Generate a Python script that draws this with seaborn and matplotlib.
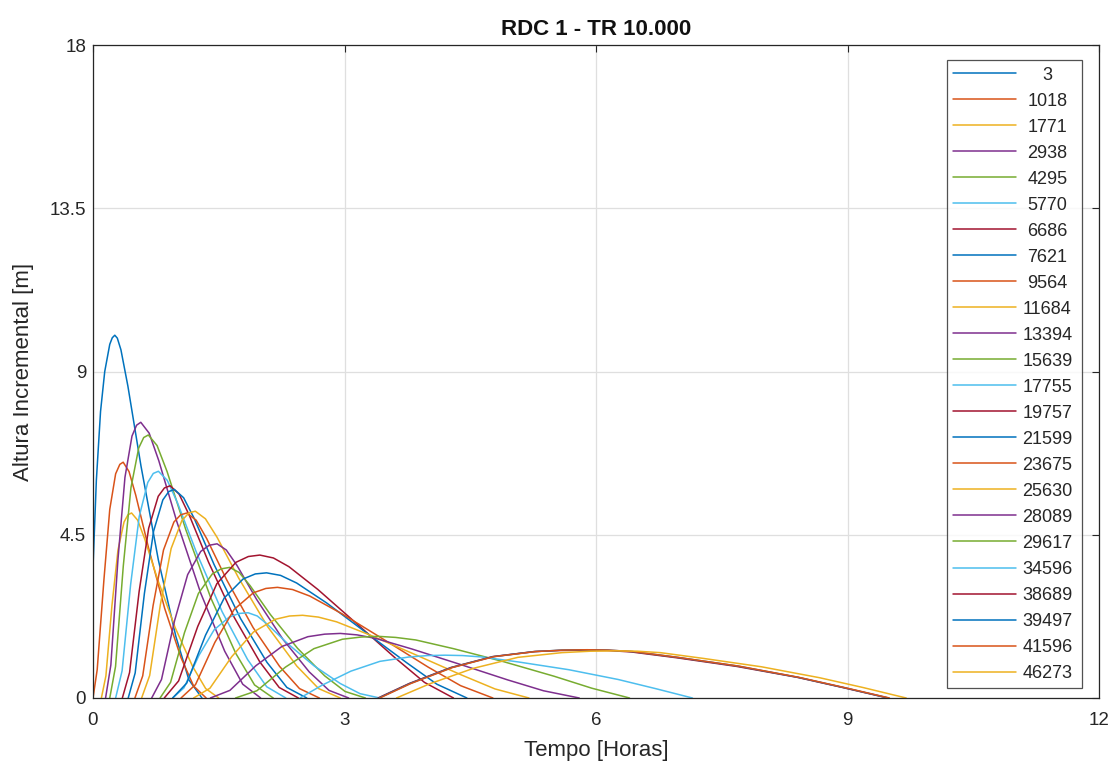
import matplotlib
matplotlib.use("Agg")
import matplotlib.pyplot as plt
from matplotlib.lines import Line2D
from matplotlib.transforms import IdentityTransform
import pandas as pd
import seaborn as sns

# ── data (time [h], height [m]) per section ─────────────────────────────────
sections = ["3", "1018", "1771", "2938", "4295", "5770", "6686", "7621",
            "9564", "11684", "13394", "15639", "17755", "19757", "21599",
            "23675", "25630", "28089", "29617", "34596", "38689", "39497",
            "41596", "46273"]

t_3 = [0, 0.04, 0.09, 0.14, 0.2, 0.23, 0.26, 0.29, 0.333, 0.416, 0.572, 0.78, 0.988, 1.144, 1.3]
h_3 = [3.6, 6.0, 7.9, 9.0, 9.75, 9.93, 10.0, 9.92, 9.6, 8.6, 6.4, 3.8, 1.7, 0.5, 0]

t_1018 = [0, 0.05, 0.13, 0.2, 0.27, 0.32, 0.36, 0.43, 0.51, 0.66, 0.855, 1.05, 1.2, 1.35]
h_1018 = [0, 0.78, 3.25, 5.2, 6.18, 6.44, 6.5, 6.24, 5.59, 4.16, 2.47, 1.11, 0.33, 0]

t_1771 = [0.1, 0.154, 0.226, 0.298, 0.37, 0.417, 0.46, 0.533, 0.616, 0.772, 0.98, 1.188, 1.344, 1.5]
h_1771 = [0, 0.61, 2.55, 4.08, 4.85, 5.05, 5.1, 4.9, 4.39, 3.26, 1.94, 0.87, 0.26, 0]

t_2938 = [0.15, 0.213, 0.297, 0.381, 0.465, 0.52, 0.57, 0.67, 0.785, 1.0, 1.285, 1.571, 1.786, 2.0]
h_2938 = [0, 0.91, 3.8, 6.08, 7.22, 7.52, 7.6, 7.3, 6.54, 4.86, 2.89, 1.29, 0.38, 0]

t_4295 = [0.2, 0.269, 0.361, 0.453, 0.545, 0.605, 0.66, 0.764, 0.884, 1.107, 1.405, 1.703, 1.927, 2.15]
h_4295 = [0, 0.87, 3.63, 5.8, 6.89, 7.18, 7.25, 6.96, 6.24, 4.64, 2.76, 1.23, 0.36, 0]

t_5770 = [0.27, 0.347, 0.449, 0.551, 0.653, 0.719, 0.78, 0.886, 1.008, 1.236, 1.54, 1.844, 2.072, 2.3]
h_5770 = [0, 0.75, 3.13, 5.0, 5.94, 6.19, 6.25, 6.0, 5.38, 4.0, 2.38, 1.06, 0.31, 0]

t_6686 = [0.35, 0.436, 0.55, 0.664, 0.778, 0.852, 0.92, 1.027, 1.15, 1.379, 1.685, 1.991, 2.221, 2.45]
h_6686 = [0, 0.7, 2.93, 4.68, 5.56, 5.79, 5.85, 5.62, 5.03, 3.74, 2.22, 0.99, 0.29, 0]

t_7621 = [0.42, 0.503, 0.613, 0.723, 0.833, 0.904, 0.97, 1.081, 1.207, 1.444, 1.76, 2.076, 2.313, 2.55]
h_7621 = [0, 0.69, 2.88, 4.6, 5.46, 5.69, 5.75, 5.52, 4.95, 3.68, 2.19, 0.98, 0.29, 0]

t_9564 = [0.5, 0.593, 0.717, 0.841, 0.965, 1.046, 1.12, 1.231, 1.357, 1.594, 1.91, 2.226, 2.463, 2.7]
h_9564 = [0, 0.61, 2.55, 4.08, 4.85, 5.05, 5.1, 4.9, 4.39, 3.26, 1.94, 0.87, 0.26, 0]

t_11684 = [0.58, 0.676, 0.804, 0.932, 1.06, 1.143, 1.22, 1.341, 1.48, 1.739, 2.085, 2.431, 2.691, 2.95]
h_11684 = [0, 0.62, 2.58, 4.12, 4.89, 5.1, 5.15, 4.94, 4.43, 3.3, 1.96, 0.88, 0.26, 0]

t_13394 = [0.7, 0.817, 0.973, 1.129, 1.285, 1.386, 1.48, 1.59, 1.716, 1.951, 2.265, 2.579, 2.815, 3.05]
h_13394 = [0, 0.51, 2.13, 3.4, 4.04, 4.21, 4.25, 4.08, 3.66, 2.72, 1.62, 0.72, 0.21, 0]

t_15639 = [0.8, 0.925, 1.091, 1.257, 1.423, 1.53, 1.63, 1.743, 1.873, 2.116, 2.44, 2.764, 3.007, 3.25]
h_15639 = [0, 0.43, 1.8, 2.88, 3.42, 3.56, 3.6, 3.46, 3.1, 2.3, 1.37, 0.61, 0.18, 0]

t_17755 = [0.95, 1.085, 1.265, 1.445, 1.625, 1.742, 1.85, 1.96, 2.086, 2.321, 2.635, 2.949, 3.185, 3.42]
h_17755 = [0, 0.28, 1.18, 1.88, 2.23, 2.33, 2.35, 2.26, 2.02, 1.5, 0.89, 0.4, 0.12, 0]

t_19757 = [0.85, 1.021, 1.249, 1.477, 1.705, 1.853, 1.99, 2.152, 2.337, 2.683, 3.145, 3.607, 3.954, 4.3]
h_19757 = [0, 0.47, 1.97, 3.15, 3.74, 3.9, 3.94, 3.86, 3.62, 2.99, 2.05, 1.1, 0.43, 0]

t_21599 = [0.95, 1.118, 1.342, 1.566, 1.79, 1.936, 2.07, 2.237, 2.429, 2.787, 3.265, 3.743, 4.102, 4.46]
h_21599 = [0, 0.41, 1.73, 2.76, 3.28, 3.42, 3.45, 3.38, 3.17, 2.62, 1.79, 0.97, 0.38, 0]

t_23675 = [1.05, 1.223, 1.453, 1.683, 1.913, 2.062, 2.2, 2.38, 2.586, 2.971, 3.485, 3.999, 4.385, 4.77]
h_23675 = [0, 0.37, 1.53, 2.44, 2.9, 3.02, 3.05, 2.99, 2.81, 2.32, 1.59, 0.85, 0.34, 0]

t_25630 = [1.2, 1.395, 1.655, 1.915, 2.175, 2.344, 2.5, 2.689, 2.905, 3.31, 3.85, 4.39, 4.795, 5.2]
h_25630 = [0, 0.27, 1.14, 1.82, 2.17, 2.26, 2.28, 2.23, 2.1, 1.73, 1.19, 0.64, 0.25, 0]

t_28089 = [1.4, 1.633, 1.943, 2.253, 2.563, 2.764, 2.95, 3.15, 3.378, 3.805, 4.375, 4.945, 5.373, 5.8]
h_28089 = [0, 0.21, 0.89, 1.42, 1.69, 1.76, 1.78, 1.74, 1.64, 1.35, 0.93, 0.5, 0.2, 0]

t_29617 = [1.7, 1.955, 2.295, 2.635, 2.975, 3.196, 3.4, 3.61, 3.85, 4.3, 4.9, 5.5, 5.95, 6.4]
h_29617 = [0, 0.2, 0.85, 1.36, 1.62, 1.68, 1.7, 1.67, 1.6, 1.36, 1.0, 0.6, 0.27, 0]

t_34596 = [2.47, 2.73, 3.076, 3.422, 3.768, 3.992, 4.2, 4.407, 4.643, 5.085, 5.675, 6.265, 6.708, 7.15]
h_34596 = [0, 0.35, 0.74, 1.01, 1.13, 1.17, 1.18, 1.17, 1.13, 0.99, 0.78, 0.51, 0.26, 0]

t_38689 = [3.4, 3.772, 4.268, 4.764, 5.26, 5.582, 5.88, 6.132, 6.42, 6.96, 7.68, 8.4, 8.94, 9.48]
h_38689 = [0, 0.4, 0.84, 1.14, 1.28, 1.31, 1.32, 1.31, 1.27, 1.11, 0.87, 0.57, 0.29, 0]

t_39497 = [3.41, 3.782, 4.278, 4.774, 5.27, 5.592, 5.89, 6.142, 6.43, 6.97, 7.69, 8.41, 8.95, 9.49]
h_39497 = [0, 0.4, 0.84, 1.14, 1.28, 1.32, 1.33, 1.32, 1.28, 1.12, 0.88, 0.57, 0.29, 0]

t_41596 = [3.42, 3.792, 4.288, 4.784, 5.28, 5.602, 5.9, 6.152, 6.44, 6.98, 7.7, 8.42, 8.96, 9.5]
h_41596 = [0, 0.4, 0.84, 1.14, 1.28, 1.32, 1.33, 1.32, 1.28, 1.12, 0.88, 0.57, 0.29, 0]

t_46273 = [3.62, 4.015, 4.541, 5.067, 5.593, 5.934, 6.25, 6.492, 6.768, 7.285, 7.975, 8.665, 9.183, 9.7]
h_46273 = [0, 0.39, 0.82, 1.12, 1.25, 1.29, 1.3, 1.29, 1.25, 1.09, 0.86, 0.56, 0.29, 0]

times = [t_3, t_1018, t_1771, t_2938, t_4295, t_5770, t_6686, t_7621, t_9564,
         t_11684, t_13394, t_15639, t_17755, t_19757, t_21599, t_23675, t_25630,
         t_28089, t_29617, t_34596, t_38689, t_39497, t_41596, t_46273]
heights = [h_3, h_1018, h_1771, h_2938, h_4295, h_5770, h_6686, h_7621, h_9564,
           h_11684, h_13394, h_15639, h_17755, h_19757, h_21599, h_23675, h_25630,
           h_28089, h_29617, h_34596, h_38689, h_39497, h_41596, h_46273]

# MATLAB default colour order, cycled
MATLAB = ["#0072BD", "#D95319", "#EDB120", "#7E2F8E", "#77AC30", "#4DBEEE", "#A2142F"]
colors = [MATLAB[i % 7] for i in range(len(sections))]

df = pd.concat([pd.DataFrame({"t": t, "h": h, "sec": s})
                for s, t, h in zip(sections, times, heights)], ignore_index=True)

sns.set_theme(style="white")
plt.rcParams["font.family"] = ["Liberation Sans", "DejaVu Sans"]
INK = "#262626"
FS_LEG = 13

fig = plt.figure(figsize=(11.16, 7.67), dpi=100)
ax = fig.add_axes([93 / 1116, 1 - 698 / 767, 1006 / 1116, 653 / 767])

for s, c in zip(sections, colors):
    sns.lineplot(data=df[df["sec"] == s], x="t", y="h", sort=False,
                 estimator=None, color=c, lw=1.1, ax=ax)

ax.set_xlim(0, 12)
ax.set_ylim(0, 18)
ax.set_xticks([0, 3, 6, 9, 12])
ax.set_yticks([0, 4.5, 9, 13.5, 18])
ax.set_yticklabels(["0", "4.5", "9", "13.5", "18"])
ax.grid(True, color="#dfdfdf", lw=0.9)
ax.tick_params(direction="in", length=5, width=0.8, labelsize=13.5,
               colors=INK, top=True, right=True)
ax.tick_params(axis="x", pad=10)
ax.tick_params(axis="y", pad=5)
for sp in ax.spines.values():
    sp.set_color(INK)
    sp.set_linewidth(0.9)

ax.set_title("RDC 1 - TR 10.000", fontsize=16, fontweight="bold", pad=7, color="#111111")
ax.set_xlabel("Tempo [Horas]", fontsize=16, color=INK, labelpad=8)
ax.set_ylabel("Altura Incremental [m]", fontsize=16, color=INK, labelpad=11)

# legend box placed like the reference; labels centred in the text column
handles = [Line2D([], [], color=c, lw=1.1) for c in colors]
leg = ax.legend(handles, [""] * len(sections), loc="upper right",
                bbox_to_anchor=(1082 / 1116, 1 - 60 / 767), bbox_transform=fig.transFigure,
                borderaxespad=0, fontsize=FS_LEG, handlelength=3.5, labelspacing=0.5,
                frameon=True, fancybox=False, handletextpad=3.28, borderpad=0.35)
leg.get_frame().set_edgecolor(INK)
leg.get_frame().set_linewidth(0.9)

fig.canvas.draw()
renderer = fig.canvas.get_renderer()
frame = leg.get_frame().get_window_extent(renderer)
fs_px = FS_LEG * fig.dpi / 72
for line, lab in zip(leg.get_lines(), sections):
    bb = line.get_window_extent(renderer)
    y = (bb.y0 + bb.y1) / 2 - 0.36 * fs_px
    fig.text(frame.x1 - 34.5, y, lab, transform=IdentityTransform(),
             ha="center", va="baseline", fontsize=FS_LEG, color=INK)

fig.savefig("out.png", dpi=100)
